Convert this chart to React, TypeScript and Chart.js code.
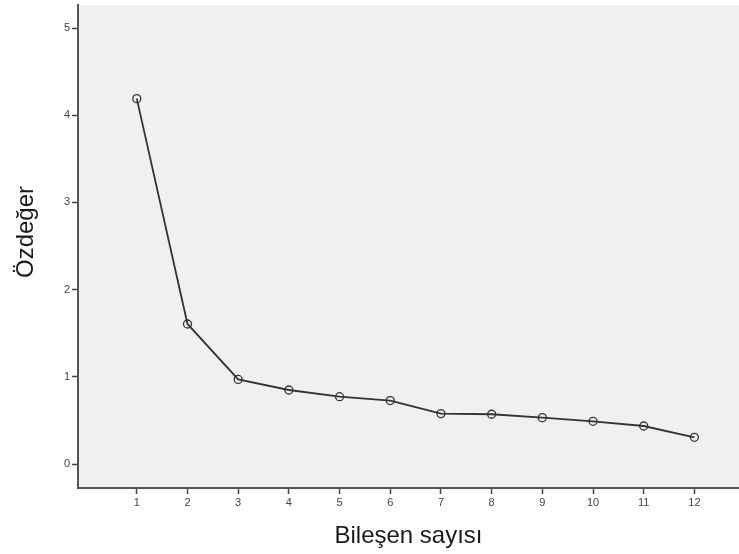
import React, { useEffect, useRef } from "react";
import { Chart, registerables } from "chart.js";

Chart.register(...registerables);

const components = [1, 2, 3, 4, 5, 6, 7, 8, 9, 10, 11, 12];
const eigenvalues = [4.19, 1.606, 0.97, 0.849, 0.772, 0.728, 0.578, 0.571, 0.532, 0.49, 0.436, 0.306];
const yTicks = [0, 1, 2, 3, 4, 5];
const xTicks = [1, 2, 3, 4, 5, 6, 7, 8, 9, 10, 11, 12];
const xTitle = "Bileşen sayısı";
const yTitle = "Özdeğer";

const FONT = "Arial, 'Liberation Sans', sans-serif";

const plotBg = {
  id: "plotBg",
  beforeDraw(chart: any) {
    const { ctx, chartArea } = chart;
    ctx.save();
    ctx.fillStyle = "#f0f0f0";
    ctx.fillRect(chartArea.left, chartArea.top, chartArea.right - chartArea.left, chartArea.bottom - chartArea.top);
    ctx.restore();
  },
};

const yTitlePlugin = {
  id: "yTitlePlugin",
  afterDraw(chart: any) {
    const { ctx } = chart;
    ctx.save();
    ctx.translate(26, 232);
    ctx.rotate(-Math.PI / 2);
    ctx.fillStyle = "#1a1a1a";
    ctx.font = "24px " + FONT;
    ctx.textAlign = "center";
    ctx.textBaseline = "middle";
    ctx.fillText(yTitle, 0, 0);
    ctx.restore();
  },
};

export default function App() {
  const ref = useRef<HTMLCanvasElement>(null);
  useEffect(() => {
    if (!ref.current) return;
    const chart = new Chart(ref.current, {
      type: "line",
      data: {
        datasets: [
          {
            data: components.map((c, i) => ({ x: c, y: eigenvalues[i] })),
            borderColor: "#333333",
            borderWidth: 1.8,
            pointRadius: 4,
            pointBorderWidth: 1.3,
            pointBorderColor: "#333333",
            pointBackgroundColor: "rgba(0,0,0,0)",
            fill: false,
            tension: 0,
          },
        ],
      },
      options: {
        responsive: false,
        animation: false,
        layout: { autoPadding: false, padding: { top: 5, right: 0, left: 0, bottom: 0 } },
        plugins: { legend: { display: false }, tooltip: { enabled: false } },
        scales: {
          x: {
            type: "linear",
            min: -0.16,
            max: 12.88,
            afterBuildTicks: (s: any) => {
              s.ticks = xTicks.map((v) => ({ value: v }));
            },
            afterFit: (s: any) => {
              s.height = 66;
              s.paddingLeft = 0;
              s.paddingRight = 0;
            },
            grid: { drawOnChartArea: false, drawTicks: true, tickLength: 6, tickColor: "#444", tickWidth: 1.5 },
            border: { display: true, color: "#555", width: 2 },
            ticks: {
              autoSkip: false,
              maxRotation: 0,
              padding: 2,
              color: "#444",
              font: { family: FONT, size: 11 },
            },
            title: {
              display: true,
              text: xTitle,
              color: "#1a1a1a",
              font: { family: FONT, size: 24 },
              padding: { top: 0, bottom: 3 },
            },
          },
          y: {
            type: "linear",
            min: -0.275,
            max: 5.264,
            afterBuildTicks: (s: any) => {
              s.ticks = yTicks.map((v) => ({ value: v }));
            },
            afterFit: (s: any) => {
              s.width = 78;
              s.paddingTop = 0;
              s.paddingBottom = 0;
            },
            grid: { drawOnChartArea: false, drawTicks: true, tickLength: 6, tickColor: "#444", tickWidth: 1.5 },
            border: { display: true, color: "#555", width: 2 },
            ticks: {
              padding: 2,
              color: "#444",
              font: { family: FONT, size: 11 },
            },
            title: { display: false },
          },
        },
      },
      plugins: [plotBg, yTitlePlugin],
    });
    return () => chart.destroy();
  }, []);
  return (
    <div style={{ position: "absolute", left: 0, top: 0, width: 739, height: 554, background: "#fff" }}>
      <canvas ref={ref} width={739} height={554} style={{ display: "block" }} />
    </div>
  );
}
